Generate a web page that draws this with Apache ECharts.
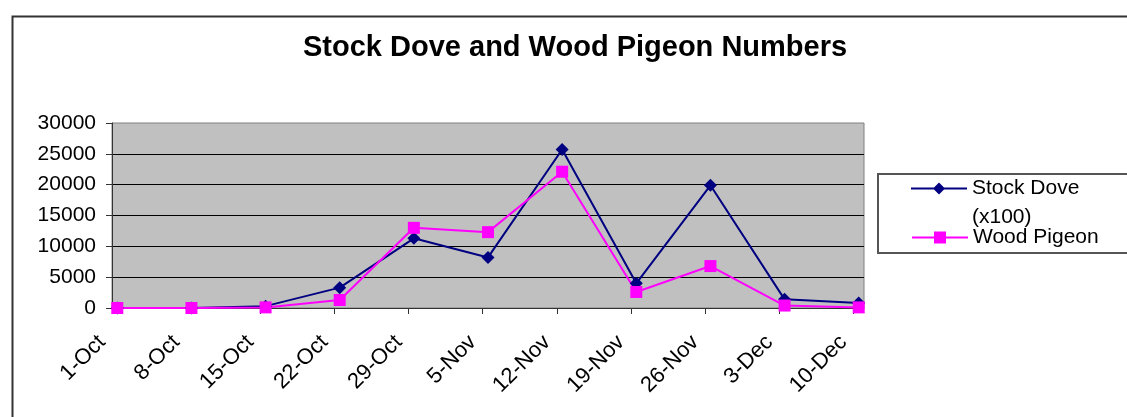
<!DOCTYPE html>
<html><head><meta charset="utf-8">
<script src="https://cdn.jsdelivr.net/npm/echarts@6/dist/echarts.min.js"></script>
<style>html,body{margin:0;padding:0;background:#fff}#c{width:1127px;height:417px}</style>
</head><body><div id="c"></div>
<script>
const dateLabels = ['1-Oct','8-Oct','15-Oct','22-Oct','29-Oct','5-Nov','12-Nov','19-Nov','26-Nov','3-Dec','10-Dec'];
const stockDove = [0, 0, 300, 3300, 11300, 8200, 25700, 4000, 19900, 1400, 800];
const woodPigeon = [0, 0, 100, 1300, 13000, 12300, 22100, 2600, 6800, 400, 100];
const seriesNames = ['Stock Dove (x100)', 'Wood Pigeon'];
const titleText = 'Stock Dove and Wood Pigeon Numbers';

const MONTHS = {Jan:0,Feb:1,Mar:2,Apr:3,May:4,Jun:5,Jul:6,Aug:7,Sep:8,Oct:9,Nov:10,Dec:11};
function dayOf(label){ const p = label.split('-'); return Date.UTC(2000, MONTHS[p[1]], +p[0]) / 86400000; }
const day0 = dayOf(dateLabels[0]);
const dayIdx = dateLabels.map(l => dayOf(l) - day0);
const lastDay = dayIdx[dayIdx.length - 1] + 1;
const labelByDay = {};
dateLabels.forEach((l, i) => { labelByDay[dayIdx[i]] = l; });
// date axis: each value sits in the middle of its day slot
const pts = arr => arr.map((v, i) => [dayIdx[i] + 0.5, v]);

// legend icon for the two-line entry: line + diamond in the upper half of a 56x58 box
const doveIcon = 'path://M0 0L0.01 0L0.01 0.01Z M0 13.5L56 13.5L56 15.5L0 15.5Z M22 14.5L28 8.5L34 14.5L28 20.5Z M55.99 57.99L56 57.99L56 58Z';

const FONT = 'Liberation Sans, Arial, sans-serif';
const chart = echarts.init(document.getElementById('c'), null, {renderer: 'canvas'});
chart.setOption({
  animation: false,
  backgroundColor: '#fff',
  title: {
    text: titleText, left: 303, top: 33, padding: 0,
    textStyle: {fontSize: 29, fontWeight: 'bold', fontFamily: FONT, color: '#000'}
  },
  graphic: [{
    type: 'rect', left: 10, top: 14, silent: true, z: -10,
    shape: {width: 1200, height: 500},
    style: {fill: null, stroke: '#333', lineWidth: 2}
  }],
  legend: [{
    orient: 'vertical', left: 878, top: 174,
    padding: [0, 70, 21, 33],
    itemWidth: 56, itemHeight: 58,
    borderColor: '#555', borderWidth: 2, backgroundColor: '#fff',
    formatter: n => n.replace(' (', '\n('),
    textStyle: {fontSize: 21, color: '#000', fontFamily: FONT, lineHeight: 29},
    data: [{name: seriesNames[0], icon: doveIcon}],
    z: 5
  }, {
    orient: 'vertical', left: 911, top: 223,
    padding: 0,
    itemWidth: 56, itemHeight: 15,
    backgroundColor: 'transparent', borderWidth: 0,
    textStyle: {fontSize: 21, color: '#000', fontFamily: FONT, lineHeight: 29},
    data: [seriesNames[1]],
    z: 6
  }],
  grid: {
    left: 112, top: 123, right: 263, bottom: 109, show: true,
    backgroundColor: '#C0C0C0', borderColor: '#808080', borderWidth: 1
  },
  xAxis: {
    type: 'value', min: 0, max: lastDay,
    axisLine: {show: true, lineStyle: {color: '#333', width: 1}},
    axisTick: {show: true, customValues: dayIdx, length: 6, lineStyle: {color: '#333'}},
    axisLabel: {
      customValues: dayIdx, formatter: v => labelByDay[v] || '',
      rotate: 45, margin: 21, padding: [0, 14, 0, 0],
      fontSize: 22, color: '#000', fontFamily: FONT
    },
    splitLine: {show: false}
  },
  yAxis: {
    type: 'value', min: 0, max: 30000, interval: 5000,
    axisLine: {show: true, lineStyle: {color: '#333', width: 1}},
    axisTick: {show: true, length: 6, lineStyle: {color: '#333'}},
    axisLabel: {margin: 16, fontSize: 21, color: '#000', fontFamily: FONT, formatter: v => String(v)},
    splitLine: {show: true, showMaxLine: false, lineStyle: {color: '#000', width: 1}}
  },
  series: [
    {
      name: seriesNames[0], type: 'line', data: pts(stockDove),
      symbol: 'diamond', symbolSize: 13,
      lineStyle: {color: '#000080', width: 2},
      itemStyle: {color: '#000080'}
    },
    {
      name: seriesNames[1], type: 'line', data: pts(woodPigeon),
      symbol: 'rect', symbolSize: 12,
      lineStyle: {color: '#FF00FF', width: 2},
      itemStyle: {color: '#FF00FF'}
    }
  ]
});
</script></body></html>
